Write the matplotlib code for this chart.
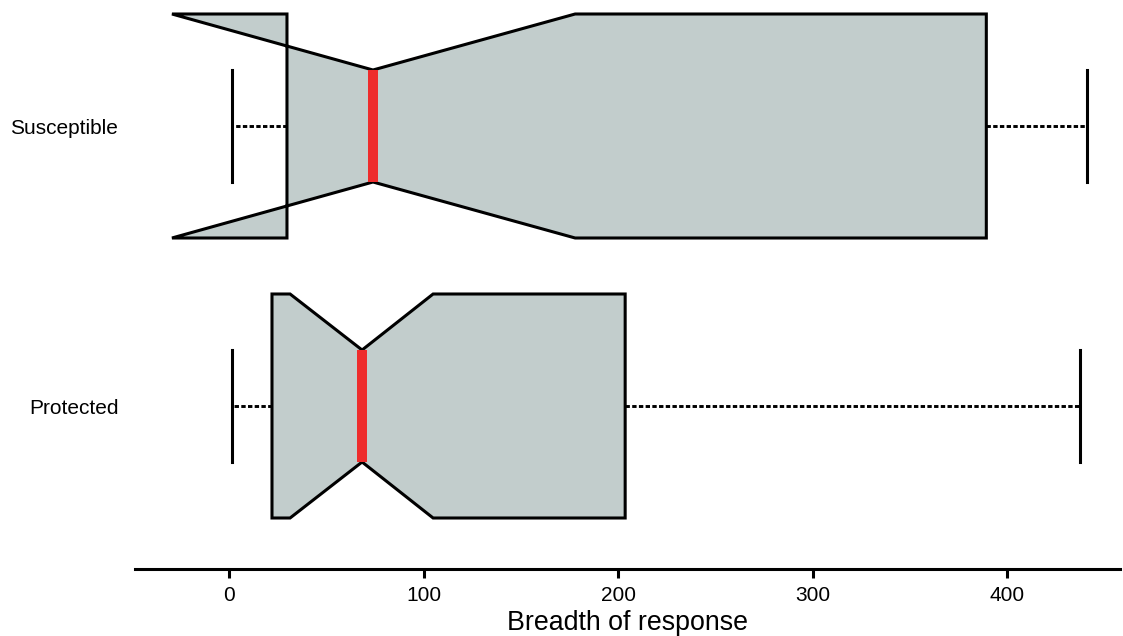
import matplotlib
matplotlib.use('Agg')
from matplotlib import pyplot as plt

# Summary statistics for each group (bottom to top)
groups = ['Protected', 'Susceptible']
medians = [68.4, 74.0]
lower_quartiles = [22.1, 29.8]
upper_quartiles = [203.6, 389.2]
whisker_low = [1.5, 1.5]
whisker_high = [437.5, 441.1]
notch_low = [31.4, -29.3]
notch_high = [104.9, 177.9]

plt.rcParams['font.family'] = ['Liberation Sans', 'DejaVu Sans']

# build the stats dicts that bxp wants
stats = []
for i in range(len(groups)):
    stats.append({
        'label': groups[i],
        'med': medians[i],
        'q1': lower_quartiles[i],
        'q3': upper_quartiles[i],
        'whislo': whisker_low[i],
        'whishi': whisker_high[i],
        'cilo': notch_low[i],
        'cihi': notch_high[i],
        'fliers': [],
    })

fig = plt.figure(figsize=(11.23, 6.36), dpi=100)
ax = fig.add_axes([135 / 1123, 90 / 636, 985 / 1123, 546 / 636])

ax.bxp(stats, positions=[1, 2], widths=0.8, capwidths=0.4,
       orientation='horizontal', shownotches=True, patch_artist=True,
       showfliers=False,
       boxprops=dict(facecolor='#c2cdcc', edgecolor='black', linewidth=2.2),
       medianprops=dict(color='#ee2c2c', linewidth=7.2, solid_capstyle='butt'),
       whiskerprops=dict(color='black', linewidth=2.1, linestyle=(0, (1.5, 0.8))),
       capprops=dict(color='black', linewidth=2.2))

ax.set_xlim(-48.3, 457.9)
ax.set_ylim(0.5, 2.45)
ax.set_xticks([0, 100, 200, 300, 400])

# axis styling: just the bottom line pushed away from the boxes
for side in ['top', 'right', 'left']:
    ax.spines[side].set_visible(False)
ax.spines['bottom'].set_position(('outward', 16.5))
ax.spines['bottom'].set_linewidth(2.2)
ax.tick_params(axis='x', length=6.5, width=2.2, labelsize=15, pad=6)
ax.tick_params(axis='y', length=0, labelsize=15, pad=12)

ax.set_xlabel('Breadth of response', fontsize=19.3, labelpad=3.5)

fig.savefig('out.png', dpi=100)
